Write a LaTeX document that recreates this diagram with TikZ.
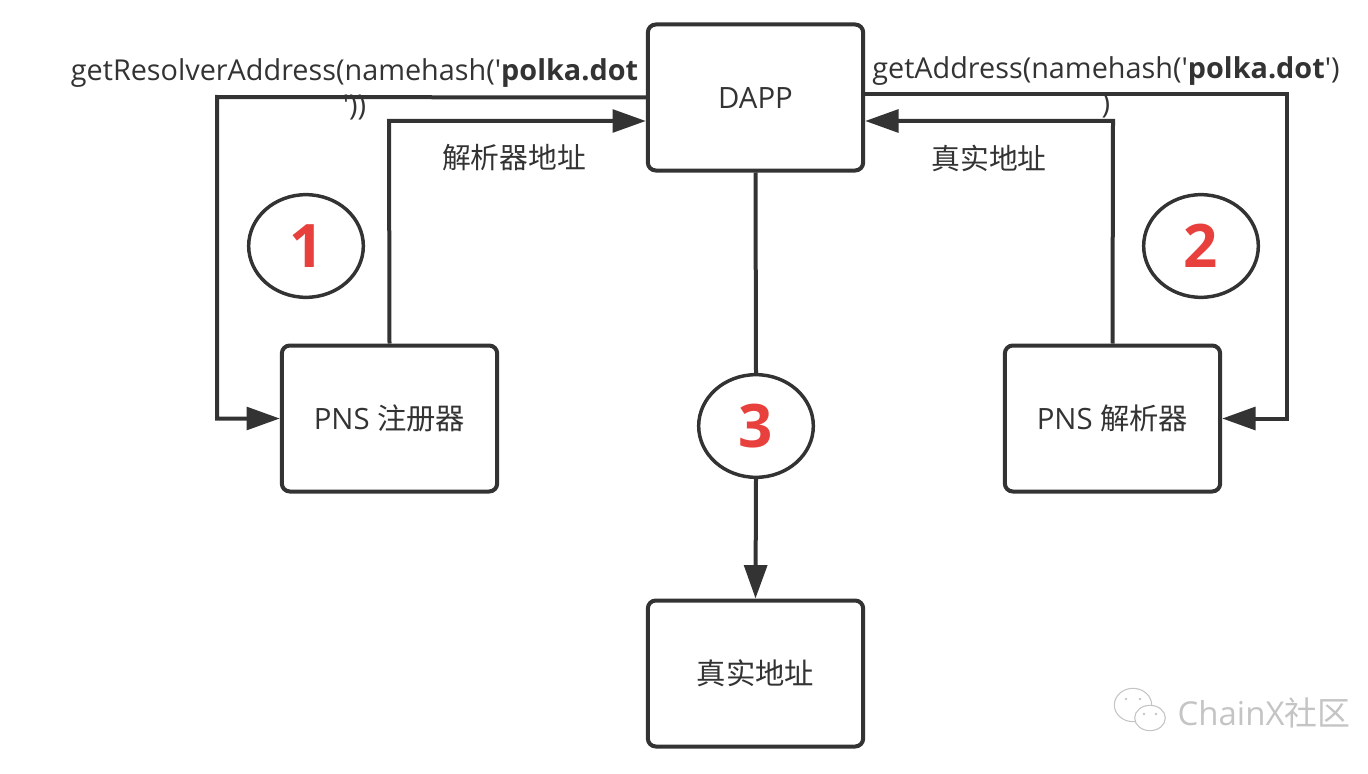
\documentclass[tikz,border=0pt]{standalone}
\usepackage{fontspec}
\setmainfont{Open Sans}
\newfontfamily\cjk{Noto Sans CJK SC}
\usetikzlibrary{arrows.meta,shapes.geometric}
\definecolor{ink}{HTML}{333333}
\definecolor{numred}{HTML}{E8403C}
\definecolor{wmark}{HTML}{C4C4C4}
\tikzset{
  box/.style={draw=ink, line width=3pt, rounded corners=6pt, minimum width=161.5pt, minimum height=109.5pt, text=ink, font=\fontsize{22}{26}\selectfont, inner sep=0pt, fill=white},
  numc/.style={ellipse, draw=ink, line width=2.6pt, minimum width=86pt, minimum height=77pt, inner sep=0pt, text=numred, font=\fontsize{45}{50}\selectfont\bfseries, fill=white},
  wire/.style={draw=ink, line width=3pt},
  arr/.style={wire, -{Triangle[length=25pt,width=17pt]}},
  lab/.style={text=ink, font=\fontsize{21.6}{26.5}\selectfont, inner sep=0pt, align=center},
  eye/.style={circle, fill=wmark, minimum size=2pt, inner sep=0pt}
}
\begin{document}
\begin{tikzpicture}[x=.75pt,y=-.75pt]
\useasboundingbox (0,0) rectangle (1368,774);
% boxes
\node[box] (dapp) at (755.5,97.5) {DAPP};
\node[box] (reg) at (389.5,418.5) {PNS {\cjk 注册器}};
\node[box] (res) at (1112.5,418.5) {PNS {\cjk 解析器}};
\node[box] (real) at (755.5,673.5) {\cjk 真实地址};
% corners
\coordinate (rega) at (217,97);
\coordinate (regb) at (389,121);
\coordinate (resa) at (1287,94);
\coordinate (resb) at (1113,121);
% connectors
\draw[arr] (dapp.west) -- (rega) |- (reg.west);
\draw[arr] (reg.north) -- (regb) -- (regb -| dapp.west);
\draw[arr] (resa -| dapp.east) -- (resa) |- (res.east);
\draw[arr] (res.north) -- (resb) -- (resb -| dapp.east);
\node[numc] (c1) at (306,246) {\hspace{1.5pt}1};
\node[numc] (c2) at (1201,246) {2};
\node[numc] (c3) at (756,426) {3};
\draw[wire] (dapp.south) -- (c3.north);
\draw[arr] (c3.south) -- (real.north);
% labels
\node[lab, anchor=north] (lres) at (354.5,58) {getResolverAddress(namehash(\textquotesingle\textbf{polka.dot}\\\textquotesingle))};
\node[lab, anchor=north] (laddr) at (1106,56) {getAddress(namehash(\textquotesingle\textbf{polka.dot}\textquotesingle)\\)};
\node[lab] (lreg) at (514,158) {\cjk 解析器地址};
\node[lab] (lreal) at (989,158) {\cjk 真实地址};
% watermark
\node[text=wmark, font=\fontsize{24.7}{28}\selectfont, inner sep=0pt] (wm) at (1264,713) {ChainX{\cjk 社区}};
\node[ellipse, draw=wmark, line width=.8pt, minimum width=28pt, minimum height=25pt, inner sep=0pt] (bub1) at (1133,705) {};
\node[ellipse, draw=wmark, line width=.8pt, fill=white, minimum width=23pt, minimum height=19pt, inner sep=0pt] (bub2) at (1150,718) {};
\foreach \ex/\ey in {1126/699, 1140/699, 1144/714, 1156/714}
  \node[eye] at (\ex,\ey) {};
\end{tikzpicture}
\end{document}
